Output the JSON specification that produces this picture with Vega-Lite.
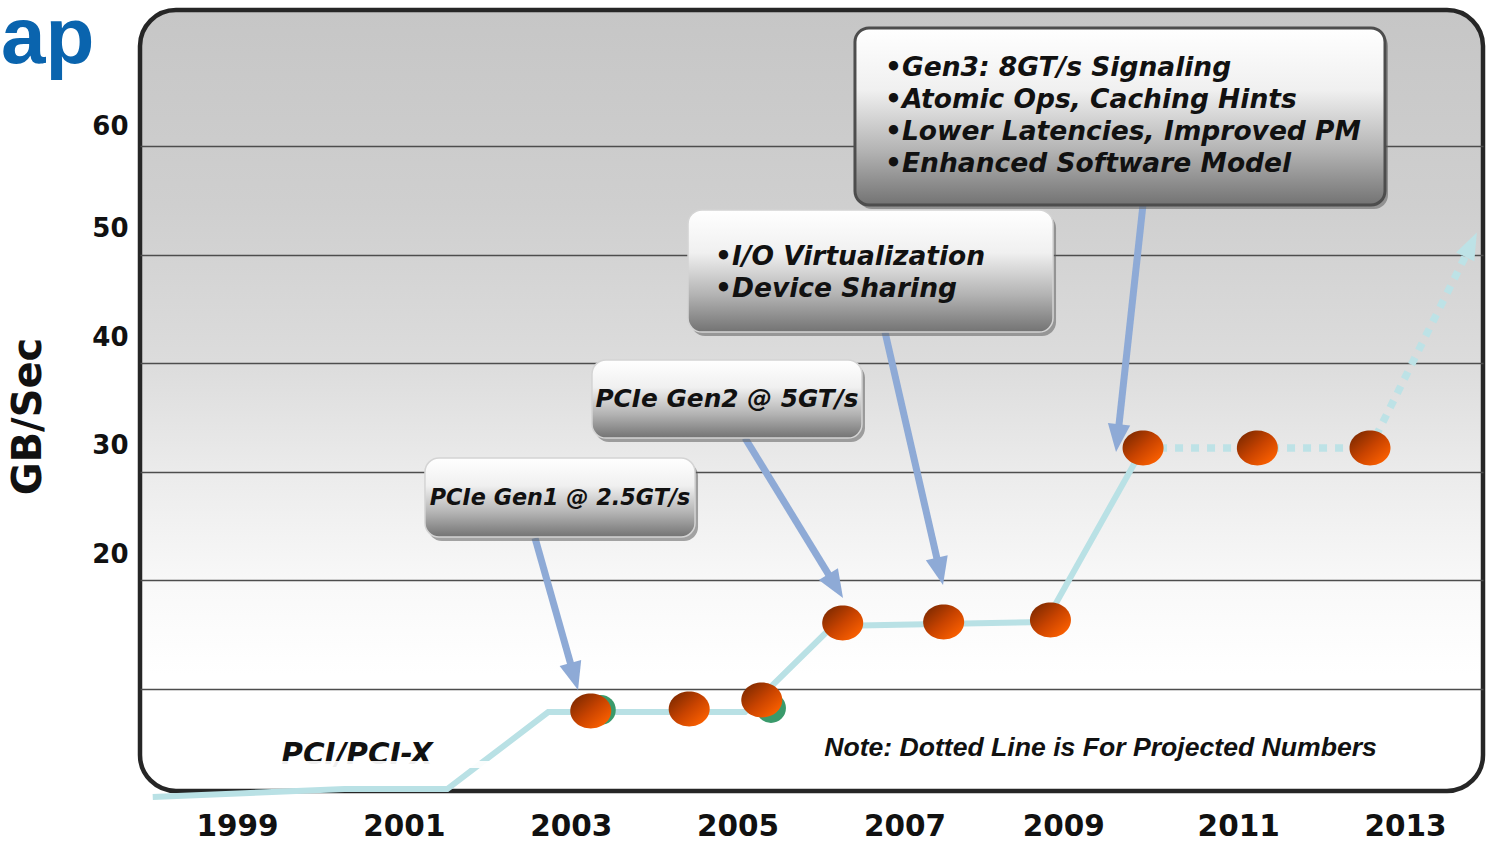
{
  "$schema": "https://vega.github.io/schema/vega-lite/v6.json",
  "width": 1343,
  "height": 781,
  "autosize": {"type": "none"},
  "padding": {"left": 140, "top": 10, "right": 10, "bottom": 51},
  "background": "#ffffff",
  "config": {
    "font": "DejaVu Sans",
    "view": {
      "stroke": "#262626",
      "strokeWidth": 4.5,
      "cornerRadius": 36,
      "fill": {
        "gradient": "linear", "x1": 0, "y1": 0, "x2": 0, "y2": 1,
        "stops": [
          {"offset": 0, "color": "#c6c6c6"},
          {"offset": 0.25, "color": "#cfcfcf"},
          {"offset": 0.45, "color": "#dcdcdc"},
          {"offset": 0.6, "color": "#ececec"},
          {"offset": 0.74, "color": "#f9f9f9"},
          {"offset": 0.85, "color": "#ffffff"},
          {"offset": 1, "color": "#ffffff"}
        ]
      }
    }
  },
  "datasets": {
    "lane": [
      {"year": 1997.99, "gbps": 0.06},
      {"year": 2000.29, "gbps": 0.79},
      {"year": 2001.52, "gbps": 0.79},
      {"year": 2002.73, "gbps": 7.88},
      {"year": 2005.09, "gbps": 7.88},
      {"year": 2006.14, "gbps": 15.8},
      {"year": 2008.69, "gbps": 16.17},
      {"year": 2009.86, "gbps": 32.19}
    ],
    "projected": [
      {"year": 2009.86, "gbps": 32.19},
      {"year": 2012.58, "gbps": 32.19},
      {"year": 2013.755, "gbps": 50.33}
    ],
    "projectedTip": [
      {"year": 2013.791, "gbps": 50.92, "heading": 25.6}
    ],
    "releases": [
      {"year": 2003.24, "gbps": 7.97},
      {"year": 2004.42, "gbps": 8.16},
      {"year": 2005.29, "gbps": 8.99},
      {"year": 2006.26, "gbps": 16.08},
      {"year": 2007.47, "gbps": 16.17},
      {"year": 2008.75, "gbps": 16.35},
      {"year": 2009.86, "gbps": 32.19},
      {"year": 2011.23, "gbps": 32.19},
      {"year": 2012.58, "gbps": 32.19}
    ],
    "echo": [
      {"year": 2003.36, "gbps": 8.07},
      {"year": 2005.4, "gbps": 8.25}
    ],
    "arrows": [
      {"name": "gen1", "year": 2002.572, "gbps": 23.9, "year_end": 2003.042, "gbps_end": 11.15, "heading": 164.2},
      {"name": "gen2", "year": 2005.089, "gbps": 33.11, "year_end": 2006.176, "gbps_end": 19.48, "heading": 148.5},
      {"name": "io", "year": 2006.767, "gbps": 42.87, "year_end": 2007.425, "gbps_end": 20.83, "heading": 167.1},
      {"name": "gen3", "year": 2009.859, "gbps": 54.57, "year_end": 2009.554, "gbps_end": 33.1, "heading": 186.2}
    ],
    "callouts": [
      {"name": "gen1", "year": 2001.253, "year_end": 2004.49, "gbps": 31.27, "gbps_end": 24.0},
      {"name": "gen2", "year": 2003.255, "year_end": 2006.491, "gbps": 40.29, "gbps_end": 33.11},
      {"name": "io", "year": 2004.406, "year_end": 2008.781, "gbps": 54.11, "gbps_end": 42.87},
      {"name": "gen3", "year": 2006.407, "year_end": 2012.76, "gbps": 70.87, "gbps_end": 54.57}
    ],
    "fade": [
      {"year": 1999.455, "year_end": 2002.033, "gbps": 3.37, "gbps_end": 2.73}
    ],
    "captions": [
      {"kind": "bullet", "label": "•Gen3: 8GT/s Signaling", "year": 2006.767, "gbps": 67.18},
      {"kind": "bullet", "label": "•Atomic Ops, Caching Hints", "year": 2006.767, "gbps": 64.24},
      {"kind": "bullet", "label": "•Lower Latencies, Improved PM", "year": 2006.767, "gbps": 61.29},
      {"kind": "bullet", "label": "•Enhanced Software Model", "year": 2006.767, "gbps": 58.35},
      {"kind": "bullet", "label": "•I/O Virtualization", "year": 2004.729, "gbps": 49.78},
      {"kind": "bullet", "label": "•Device Sharing", "year": 2004.729, "gbps": 46.83},
      {"kind": "gen2", "label": "PCIe Gen2 @ 5GT/s", "year": 2004.873, "gbps": 36.61},
      {"kind": "gen1", "label": "PCIe Gen1 @ 2.5GT/s", "year": 2002.872, "gbps": 27.59},
      {"kind": "bus", "label": "PCI/PCI-X", "year": 2000.438, "gbps": 3.94},
      {"kind": "note", "label": "Note: Dotted Line is For Projected Numbers", "year": 2009.35, "gbps": 4.57},
      {"kind": "heading", "label": "ap", "year": 1997.29, "gbps": 67.64}
    ]
  },
  "encoding": {
    "x": {
      "field": "year",
      "type": "quantitative",
      "scale": {"domain": [1997.8373, 2013.9346], "nice": false, "zero": false},
      "axis": {
        "values": [1999, 2001, 2003, 2005, 2007, 2009, 2011, 2013],
        "format": "d",
        "title": null,
        "grid": false,
        "domain": false,
        "ticks": false,
        "tickSize": 0,
        "labelFont": "DejaVu Sans",
        "labelFontWeight": "bold",
        "labelFontSize": 29.5,
        "labelColor": "#111111",
        "labelPadding": 21,
        "labelOffset": {"condition": {"test": "datum.value == 2009", "value": -8}, "value": 0},
        "labelFlush": false,
        "labelOverlap": false
      }
    },
    "y": {
      "field": "gbps",
      "type": "quantitative",
      "scale": {"domain": [0.608, 72.523], "nice": false, "zero": false},
      "axis": {
        "values": [10, 20, 30, 40, 50, 60],
        "labelExpr": "datum.value == 10 ? '' : datum.label",
        "title": "GB/Sec",
        "titleFont": "DejaVu Sans",
        "titleFontSize": 40,
        "titleFontWeight": "bold",
        "titleColor": "#111111",
        "titleAngle": -90,
        "titleX": -111.5,
        "titleY": 406,
        "titleAlign": "center",
        "titleBaseline": "middle",
        "grid": true,
        "gridColor": "#4d4d4d",
        "gridWidth": 1.6,
        "gridOpacity": 1,
        "domain": false,
        "ticks": false,
        "tickSize": 0,
        "labelFont": "DejaVu Sans",
        "labelFontSize": 26,
        "labelFontWeight": "bold",
        "labelColor": "#111111",
        "labelPadding": 12,
        "labelOffset": {"condition": {"test": "datum.value == 60", "value": -20}, "value": -26},
        "labelBaseline": "middle",
        "labelFlush": false
      }
    }
  },
  "layer": [
    {
      "data": {"name": "lane"},
      "mark": {"type": "line", "color": "#b9e1e5", "strokeWidth": 6, "strokeJoin": "miter"},
      "encoding": {}
    },
    {
      "data": {"name": "projected"},
      "mark": {"type": "line", "color": "#bde2e6", "strokeWidth": 7.5, "strokeDash": [8, 8], "strokeCap": "butt"},
      "encoding": {}
    },
    {
      "data": {"name": "projectedTip"},
      "mark": {"type": "point", "shape": "M0,-1L-0.75,1L0.75,1Z", "size": 729, "filled": true, "color": "#bde2e6", "opacity": 1, "strokeWidth": 0},
      "encoding": {"angle": {"field": "heading", "type": "quantitative", "scale": null}}
    },
    {
      "data": {"name": "captions"},
      "transform": [{"filter": "datum.kind == 'bus'"}],
      "mark": {"type": "text", "font": "DejaVu Sans", "fontWeight": "bold", "fontStyle": "italic", "fontSize": 29.5, "align": "center", "baseline": "middle", "color": "#111111"},
      "encoding": {"text": {"field": "label"}}
    },
    {
      "data": {"name": "fade"},
      "mark": {"type": "rect", "color": "#ffffff", "opacity": 0.93},
      "encoding": {"x2": {"field": "year_end"}, "y2": {"field": "gbps_end"}}
    },
    {
      "data": {"name": "echo"},
      "mark": {"type": "point", "shape": "circle", "size": 900, "filled": true, "color": "#3a9a6b", "opacity": 1, "strokeWidth": 0},
      "encoding": {}
    },
    {
      "data": {"name": "releases"},
      "mark": {
        "type": "point",
        "shape": "M-1,0A1,0.85,0,1,1,1,0A1,0.85,0,1,1,-1,0Z",
        "size": 1681,
        "filled": true,
        "opacity": 1,
        "strokeWidth": 0,
        "fill": {
          "gradient": "linear", "x1": 0.1, "y1": 0.1, "x2": 0.9, "y2": 0.9,
          "stops": [
            {"offset": 0, "color": "#7f2a00"},
            {"offset": 0.5, "color": "#c84300"},
            {"offset": 1, "color": "#ff6200"}
          ]
        }
      },
      "encoding": {}
    },
    {
      "data": {"name": "arrows"},
      "mark": {"type": "rule", "color": "#8eaad6", "strokeWidth": 7, "strokeCap": "butt"},
      "encoding": {"x2": {"field": "year_end"}, "y2": {"field": "gbps_end"}}
    },
    {
      "data": {"name": "arrows"},
      "mark": {"type": "point", "shape": "M0,-1L-0.8,1L0.8,1Z", "size": 784, "filled": true, "color": "#8eaad6", "opacity": 1, "strokeWidth": 0},
      "encoding": {
        "x": {"field": "year_end", "type": "quantitative"},
        "y": {"field": "gbps_end", "type": "quantitative"},
        "angle": {"field": "heading", "type": "quantitative", "scale": null}
      }
    },
    {
      "data": {"name": "callouts"},
      "mark": {"type": "rect", "color": "#5e5e5e", "opacity": 0.55, "cornerRadius": 14, "xOffset": 3, "x2Offset": 3, "yOffset": 4, "y2Offset": 4},
      "encoding": {"x2": {"field": "year_end"}, "y2": {"field": "gbps_end"}}
    },
    {
      "data": {"name": "callouts"},
      "mark": {
        "type": "rect",
        "cornerRadius": 14,
        "stroke": "#d4d4d4",
        "strokeWidth": 1.5,
        "fill": {
          "gradient": "linear", "x1": 0, "y1": 0, "x2": 0, "y2": 1,
          "stops": [
            {"offset": 0, "color": "#ffffff"},
            {"offset": 0.35, "color": "#f0f0f0"},
            {"offset": 0.7, "color": "#b2b2b2"},
            {"offset": 1, "color": "#737373"}
          ]
        }
      },
      "encoding": {"x2": {"field": "year_end"}, "y2": {"field": "gbps_end"}}
    },
    {
      "data": {"name": "callouts"},
      "transform": [{"filter": "datum.name == 'gen3'"}],
      "mark": {"type": "rect", "cornerRadius": 14, "fill": null, "stroke": "#4d4d4d", "strokeWidth": 3},
      "encoding": {"x2": {"field": "year_end"}, "y2": {"field": "gbps_end"}}
    },
    {
      "data": {"name": "captions"},
      "transform": [{"filter": "datum.kind == 'bullet'"}],
      "mark": {"type": "text", "font": "DejaVu Sans", "fontWeight": "bold", "fontStyle": "italic", "fontSize": 26.5, "align": "left", "baseline": "middle", "color": "#111111"},
      "encoding": {"text": {"field": "label"}}
    },
    {
      "data": {"name": "captions"},
      "transform": [{"filter": "datum.kind == 'gen2'"}],
      "mark": {"type": "text", "font": "DejaVu Sans", "fontWeight": "bold", "fontStyle": "italic", "fontSize": 24.8, "align": "center", "baseline": "middle", "color": "#111111"},
      "encoding": {"text": {"field": "label"}}
    },
    {
      "data": {"name": "captions"},
      "transform": [{"filter": "datum.kind == 'gen1'"}],
      "mark": {"type": "text", "font": "DejaVu Sans", "fontWeight": "bold", "fontStyle": "italic", "fontSize": 22.3, "align": "center", "baseline": "middle", "color": "#111111"},
      "encoding": {"text": {"field": "label"}}
    },
    {
      "data": {"name": "captions"},
      "transform": [{"filter": "datum.kind == 'note'"}],
      "mark": {"type": "text", "font": "Liberation Sans", "fontWeight": "bold", "fontStyle": "italic", "fontSize": 26.6, "align": "center", "baseline": "middle", "color": "#111111"},
      "encoding": {"text": {"field": "label"}}
    },
    {
      "data": {"name": "captions"},
      "transform": [{"filter": "datum.kind == 'heading'"}],
      "mark": {"type": "text", "font": "Liberation Sans", "fontWeight": "bold", "fontSize": 80, "align": "right", "baseline": "alphabetic", "color": "#0a64ae"},
      "encoding": {"text": {"field": "label"}}
    }
  ]
}
